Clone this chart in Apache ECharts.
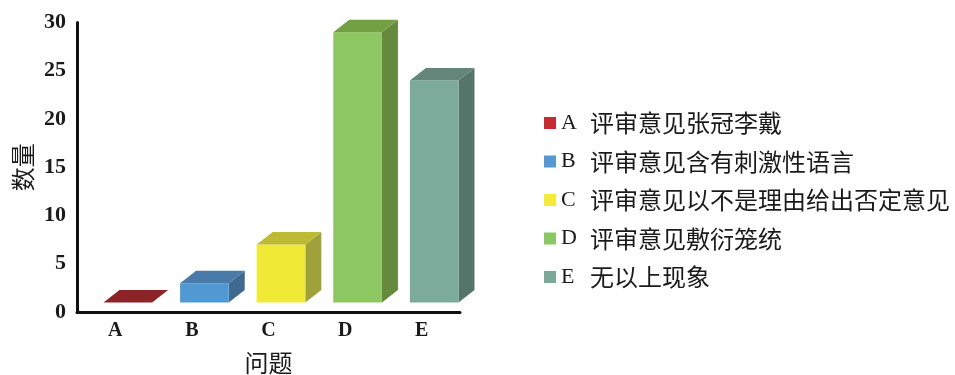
<!DOCTYPE html>
<html>
<head>
<meta charset="utf-8">
<script src="https://cdn.jsdelivr.net/npm/echarts@6/dist/echarts.min.js"></script>
<style>
html,body{margin:0;padding:0;background:#fff;}
#chart{width:955px;height:375px;}
</style>
</head>
<body>
<div id="chart"></div>
<script>
// ---- data ----
const categories = ['A', 'B', 'C', 'D', 'E'];
const values = [0, 2, 6, 28, 23];
const legendTexts = [
  '评审意见张冠李戴',
  '评审意见含有刺激性语言',
  '评审意见以不是理由给出否定意见',
  '评审意见敷衍笼统',
  '无以上现象'
];
const yTicks = { min: 0, max: 30, interval: 5 };
const xAxisName = '问题';
const yAxisName = '数量';

// ---- style ----
const frontColors = ['#C0272E', '#5199D3', '#F0E936', '#8CC762', '#7CAA9B'];
const topColors   = ['#8B2327', '#4A7BA8', '#BDBB33', '#74A044', '#64867A'];
const sideColors  = ['#7A1E22', '#40698F', '#9FA23A', '#658A3E', '#56756A'];
const legendColors = ['#C62B34', '#5698D2', '#F3EA3A', '#8BC765', '#7CA89A'];
const SHIFT_X = 12.5, LIFT = 9.5, DEPTH_X = 16, DEPTH_Y = 12.5, BAR_RATIO = 0.635;

function renderBar(params, api) {
  const idx = params.seriesIndex;
  const top = api.coord([api.value(0), api.value(1)]);
  const base = api.coord([api.value(0), 0]);
  const band = api.size([1, 0])[0];
  const w = band * BAR_RATIO;
  const cx = top[0] + SHIFT_X;
  const x0 = cx - w / 2, x1 = cx + w / 2;
  const yb = base[1] - LIFT, yt = top[1] - LIFT;
  const children = [];
  children.push({
    type: 'polygon',
    shape: { points: [[x1, yb], [x1 + DEPTH_X, yb - DEPTH_Y], [x1 + DEPTH_X, yt - DEPTH_Y], [x1, yt]] },
    style: { fill: sideColors[idx] }
  });
  children.push({
    type: 'rect',
    shape: { x: x0, y: yt, width: w, height: yb - yt },
    style: { fill: frontColors[idx] }
  });
  children.push({
    type: 'polygon',
    shape: { points: [[x0, yt], [x1, yt], [x1 + DEPTH_X, yt - DEPTH_Y], [x0 + DEPTH_X, yt - DEPTH_Y]] },
    style: { fill: topColors[idx] }
  });
  return { type: 'group', children: children };
}

const series = categories.map((c, i) => ({
  name: c,
  type: 'custom',
  renderItem: renderBar,
  itemStyle: { color: legendColors[i] },
  data: [[i, values[i]]],
  encode: { x: 0, y: 1 }
}));

const chart = echarts.init(document.getElementById('chart'), null, { renderer: 'canvas' });
chart.setOption({
  animation: false,
  backgroundColor: '#ffffff',
  grid: { left: 77, right: 495, top: 22.5, bottom: 63, outerBoundsMode: 'none' },
  legend: {
    orient: 'vertical',
    left: 544,
    top: 111,
    padding: 0,
    itemWidth: 12,
    itemHeight: 12,
    itemGap: 14.5,
    icon: 'rect',
    selectedMode: false,
    data: categories,
    formatter: function (name) {
      const i = categories.indexOf(name);
      return '{l|' + name + '}{t|' + legendTexts[i] + '}';
    },
    textStyle: {
      color: '#1a1a1a',
      rich: {
        l: { fontFamily: 'Liberation Serif', fontSize: 22, width: 29, lineHeight: 24, color: '#1a1a1a' },
        t: { fontFamily: 'Noto Sans CJK SC', fontSize: 24, lineHeight: 24, color: '#1a1a1a' }
      }
    }
  },
  xAxis: {
    type: 'category',
    data: categories,
    boundaryGap: true,
    axisTick: { show: false },
    axisLine: { show: true, lineStyle: { color: '#111', width: 3 } },
    axisLabel: { margin: 9, fontFamily: 'Liberation Serif', fontSize: 20, fontWeight: 'bold', color: '#1a1a1a' },
    name: xAxisName,
    nameLocation: 'middle',
    nameGap: 39,
    nameTextStyle: { fontFamily: 'Noto Sans CJK SC', fontSize: 24, color: '#1a1a1a' }
  },
  yAxis: {
    type: 'value',
    min: yTicks.min,
    max: yTicks.max,
    interval: yTicks.interval,
    splitLine: { show: false },
    axisTick: { show: false },
    axisLine: { show: true, lineStyle: { color: '#111', width: 3 } },
    axisLabel: { margin: 11, fontFamily: 'Liberation Serif', fontSize: 22, fontWeight: 'bold', color: '#1a1a1a' },
    name: yAxisName,
    nameLocation: 'middle',
    nameRotate: 90,
    nameGap: 42,
    nameTextStyle: { fontFamily: 'Noto Sans CJK SC', fontSize: 24, color: '#1a1a1a' }
  },
  series: series
});
</script>
</body>
</html>
